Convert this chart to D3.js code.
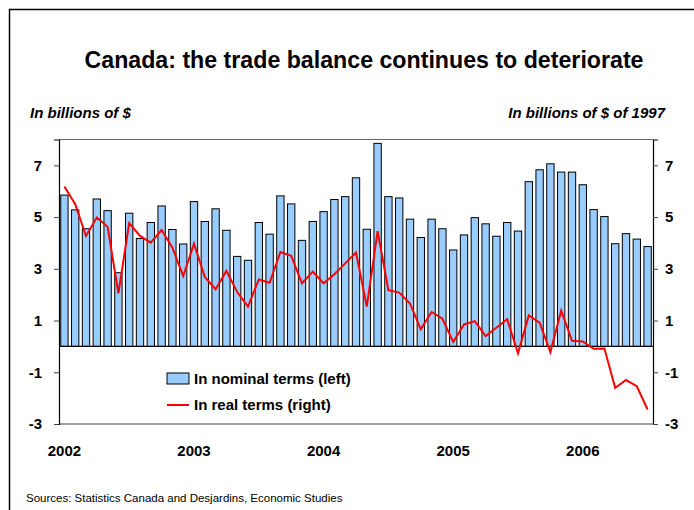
<!DOCTYPE html>
<html>
<head>
<meta charset="utf-8">
<script src="https://cdn.jsdelivr.net/npm/d3@7"></script>
<style>
  body { margin: 0; background: #fff; }
  text { font-family: "Liberation Sans", Arial, sans-serif; }
</style>
</head>
<body>
<svg id="chart"></svg>
<script>
const width = 694;
const height = 510;

// Monthly data, Jan 2002 to Jul 2006
const years = ["2002", "2003", "2004", "2005", "2006"];
const nominal = [
  5.85, 5.28, 4.55, 5.70, 5.25, 2.85, 5.15, 4.17, 4.79, 5.43, 4.52, 3.96,
  5.60, 4.83, 5.32, 4.49, 3.48, 3.33, 4.79, 4.34, 5.82, 5.51, 4.10, 4.83,
  5.21, 5.68, 5.79, 6.52, 4.53, 7.85, 5.79, 5.74, 4.92, 4.21, 4.92, 4.55,
  3.73, 4.31, 4.98, 4.74, 4.26, 4.79, 4.46, 6.37, 6.83, 7.06, 6.74, 6.74,
  6.25, 5.29, 5.02, 3.97, 4.36, 4.15, 3.86
];
const real = [
  6.18, 5.50, 4.27, 4.98, 4.63, 2.05, 4.77, 4.27, 4.01, 4.50, 3.82, 2.72,
  3.97, 2.68, 2.21, 2.92, 2.10, 1.54, 2.59, 2.46, 3.65, 3.50, 2.44, 2.89,
  2.44, 2.79, 3.21, 3.63, 1.54, 4.46, 2.17, 2.08, 1.66, 0.66, 1.33, 1.07,
  0.17, 0.85, 0.98, 0.40, 0.72, 1.05, -0.27, 1.20, 0.92, -0.22, 1.38, 0.22,
  0.19, -0.09, -0.08, -1.60, -1.30, -1.54, -2.44
];
const yTicks = [-3, -1, 1, 3, 5, 7];

const svg = d3.select("#chart")
    .attr("width", width)
    .attr("height", height);

// outer frame
svg.append("rect")
    .attr("x", 9.5).attr("y", 9.5)
    .attr("width", 700).attr("height", 520)
    .attr("fill", "none")
    .attr("stroke", "#000")
    .attr("stroke-width", 1.5);

const margin = { top: 139.5, right: 41, bottom: 86, left: 59 };
const x = d3.scaleBand()
    .domain(d3.range(nominal.length))
    .range([margin.left, width - margin.right])
    .paddingInner(0.32)
    .paddingOuter(0.16);
const y = d3.scaleLinear()
    .domain([-3, 8])
    .range([height - margin.bottom, margin.top]);
const yRight = y.copy();

// title and axis units
svg.append("text")
    .attr("x", 364).attr("y", 68)
    .attr("text-anchor", "middle")
    .attr("font-size", 23).attr("font-weight", "bold")
    .attr("textLength", 559).attr("lengthAdjust", "spacingAndGlyphs")
    .text("Canada: the trade balance continues to deteriorate");

svg.append("text")
    .attr("x", 30).attr("y", 118)
    .attr("font-size", 15).attr("font-weight", "bold").attr("font-style", "italic")
    .text("In billions of $");

svg.append("text")
    .attr("x", 665).attr("y", 118)
    .attr("text-anchor", "end")
    .attr("font-size", 15).attr("font-weight", "bold").attr("font-style", "italic")
    .text("In billions of $ of 1997");

// plot frame (top/bottom)
svg.append("line")
    .attr("x1", margin.left).attr("x2", width - margin.right)
    .attr("y1", margin.top).attr("y2", margin.top)
    .attr("stroke", "#666").attr("stroke-width", 1);
svg.append("line")
    .attr("x1", margin.left).attr("x2", width - margin.right)
    .attr("y1", y(-3)).attr("y2", y(-3))
    .attr("stroke", "#444").attr("stroke-width", 1);

// bars
svg.selectAll("rect.bar")
    .data(nominal)
    .enter()
    .append("rect")
    .attr("class", "bar")
    .attr("x", (d, i) => x(i))
    .attr("y", d => y(Math.max(0, d)))
    .attr("width", x.bandwidth())
    .attr("height", d => Math.abs(y(d) - y(0)))
    .attr("fill", "#99CCFF")
    .attr("stroke", "#000")
    .attr("stroke-width", 1);

// zero line
svg.append("line")
    .attr("x1", margin.left).attr("x2", width - margin.right)
    .attr("y1", y(0)).attr("y2", y(0))
    .attr("stroke", "#000").attr("stroke-width", 1.2);

// real line
const line = d3.line()
    .x((d, i) => x(i) + x.bandwidth() / 2)
    .y(d => yRight(d));
svg.append("path")
    .datum(real)
    .attr("d", line)
    .attr("fill", "none")
    .attr("stroke", "#FF0000")
    .attr("stroke-width", 2);

// axes
const leftAxis = svg.append("g")
    .attr("transform", `translate(${margin.left},0)`)
    .call(d3.axisLeft(y).tickValues(yTicks).tickSize(5).tickPadding(12).tickFormat(d => String(d)));
const rightAxis = svg.append("g")
    .attr("transform", `translate(${width - margin.right},0)`)
    .call(d3.axisRight(yRight).tickValues(yTicks).tickSize(5).tickPadding(7).tickFormat(d => String(d)));
[leftAxis, rightAxis].forEach(g => {
  g.select(".domain").attr("stroke", "#000").attr("stroke-width", 1.2);
  g.selectAll(".tick line").attr("stroke", "#444");
  g.selectAll("text")
    .attr("font-family", "Liberation Sans, Arial, sans-serif")
    .attr("font-size", 15).attr("font-weight", "bold").attr("fill", "#000");
});

// year labels under each January
svg.selectAll("text.year")
    .data(years)
    .enter()
    .append("text")
    .attr("class", "year")
    .attr("x", (d, i) => x(i * 12) + x.bandwidth() / 2)
    .attr("y", 456)
    .attr("text-anchor", "middle")
    .attr("font-size", 15).attr("font-weight", "bold")
    .text(d => d);

// legend
const legend = svg.append("g").attr("transform", "translate(167,373)");
legend.append("rect")
    .attr("x", 0).attr("y", 0).attr("width", 22).attr("height", 11)
    .attr("fill", "#99CCFF").attr("stroke", "#000");
legend.append("text")
    .attr("x", 27).attr("y", 11)
    .attr("font-size", 15).attr("font-weight", "bold")
    .text("In nominal terms (left)");
legend.append("line")
    .attr("x1", 0).attr("x2", 22).attr("y1", 32).attr("y2", 32)
    .attr("stroke", "#FF0000").attr("stroke-width", 2);
legend.append("text")
    .attr("x", 27).attr("y", 37)
    .attr("font-size", 15).attr("font-weight", "bold")
    .text("In real terms (right)");

// source
svg.append("text")
    .attr("x", 26).attr("y", 502)
    .attr("font-size", 11.5)
    .text("Sources: Statistics Canada and Desjardins, Economic Studies");
</script>
</body>
</html>
